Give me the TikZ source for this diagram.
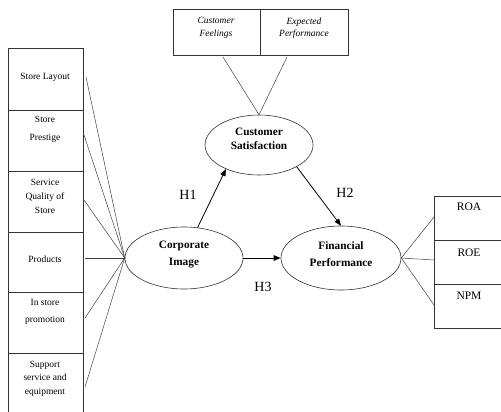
\documentclass[tikz,border=0pt]{standalone}
\usepackage{fontspec}
\setmainfont{Liberation Serif}
\usetikzlibrary{shapes.geometric,arrows.meta}
\begin{document}
\begin{tikzpicture}[x=1pt,y=-1pt, line width=0.6pt,
  lbox/.style={draw=black!80, rectangle, minimum width=75pt, inner sep=0pt, anchor=north west},
  rbox/.style={draw=black!80, rectangle, minimum width=70pt, minimum height=44pt, inner sep=0pt, anchor=north west},
  tbox/.style={draw=black!80, rectangle, minimum height=46pt, inner sep=0pt},
  ltext/.style={font=\fontsize{9.5}{11}\selectfont, align=center, inner sep=0pt},
  rtext/.style={font=\fontsize{11.5}{13}\selectfont, inner sep=0pt},
  ttext/.style={font=\fontsize{9.5}{12.5}\selectfont\itshape, align=center, inner sep=0pt},
  etext/.style={align=center, inner sep=0pt},
  construct/.style={draw=black!80, ellipse, inner sep=0pt},
  htext/.style={font=\fontsize{14}{16}\selectfont, inner sep=0pt},
  arr/.style={-{Triangle[length=7pt,width=5.5pt]}, draw=black, line width=0.8pt},
  link/.style={draw=black!75, line width=0.5pt}]
\useasboundingbox (0,0) rectangle (501,412);
\clip (0,0) rectangle (501,412);

% left indicator boxes
\node[lbox, minimum height=62pt] (b1) at (7.5,48) {};
\node[lbox, minimum height=61pt] (b2) at (7.5,110) {};
\node[lbox, minimum height=61pt] (b3) at (7.5,171) {};
\node[lbox, minimum height=60pt] (b4) at (7.5,232) {};
\node[lbox, minimum height=61pt] (b5) at (7.5,292) {};
\node[lbox, minimum height=64pt] (b6) at (7.5,353) {};

\node[ltext] (t1) at (45,77) {Store Layout};
\node[ltext, font=\fontsize{9.5}{18}\selectfont] (t2) at (45,129) {Store\\Prestige};
\node[ltext, font=\fontsize{9.5}{14}\selectfont] (t3) at (45,196) {Service\\Quality of\\Store};
\node[ltext] (t4) at (45,259) {Products};
\node[ltext, font=\fontsize{9.5}{17}\selectfont] (t5) at (45,311.5) {In store\\promotion};
\node[ltext, font=\fontsize{9.5}{13.5}\selectfont] (t6) at (45,378.5) {Support\\service and\\equipment};

% top boxes
\node[tbox, minimum width=87pt] (cf) at (216.5,32) {};
\node[tbox, minimum width=88pt] (ep) at (304,32) {};
\node[ttext] (cft) at (216,28) {Customer\\Feelings};
\node[ttext] (ept) at (304,28) {Expected\\Performance};

% right boxes
\node[rbox] (r1) at (434,196) {};
\node[rbox] (r2) at (434,240) {};
\node[rbox] (r3) at (434,284) {};
\node[rtext] (r1t) at (469,207) {ROA};
\node[rtext] (r2t) at (469,253) {ROE};
\node[rtext] (r3t) at (469,296) {NPM};

% constructs
\node[construct, minimum width=118pt, minimum height=62pt] (CI) at (184,258) {};
\node[construct, minimum width=108pt, minimum height=60pt] (CS) at (259,145) {};
\node[construct, minimum width=120pt, minimum height=64pt] (FP) at (341,258) {};
\node[etext, font=\fontsize{11.3}{17}\selectfont\bfseries] (CIt) at (184,254.5) {Corporate\\Image};
\node[etext, font=\fontsize{11.3}{14}\selectfont\bfseries] (CSt) at (259,139) {Customer\\Satisfaction};
\node[etext, font=\fontsize{11.3}{17}\selectfont\bfseries] (FPt) at (341,254.5) {Financial\\Performance};

% indicator link points
\coordinate (s1) at (86,77);
\coordinate (s2) at (84,135);
\coordinate (s3) at (84,200);
\coordinate (s4) at (85,258);
\coordinate (s5) at (85,318);
\coordinate (s6) at (85,387);
\foreach \s in {s1,s2,s3,s4,s5,s6} \draw[link] (\s) -- (CI.west);

\coordinate (c1) at (223,57);
\coordinate (c2) at (287,57);
\draw[link] (c1) -- (CS.north) -- (c2);

\coordinate (q1) at (434,217);
\coordinate (q2) at (434,260);
\coordinate (q3) at (434,305);
\foreach \q in {q1,q2,q3} \draw[link] (FP.east) -- (\q);

% hypotheses
\draw[arr] (CI.66) -- (CS.216);
\draw[arr] (CS.330) -- (FP.north);
\draw[arr] (CI.east) -- (FP.west);
\node[htext] (h1) at (188,195) {H1};
\node[htext] (h2) at (345,193) {H2};
\node[htext] (h3) at (263,287) {H3};
\end{tikzpicture}
\end{document}
